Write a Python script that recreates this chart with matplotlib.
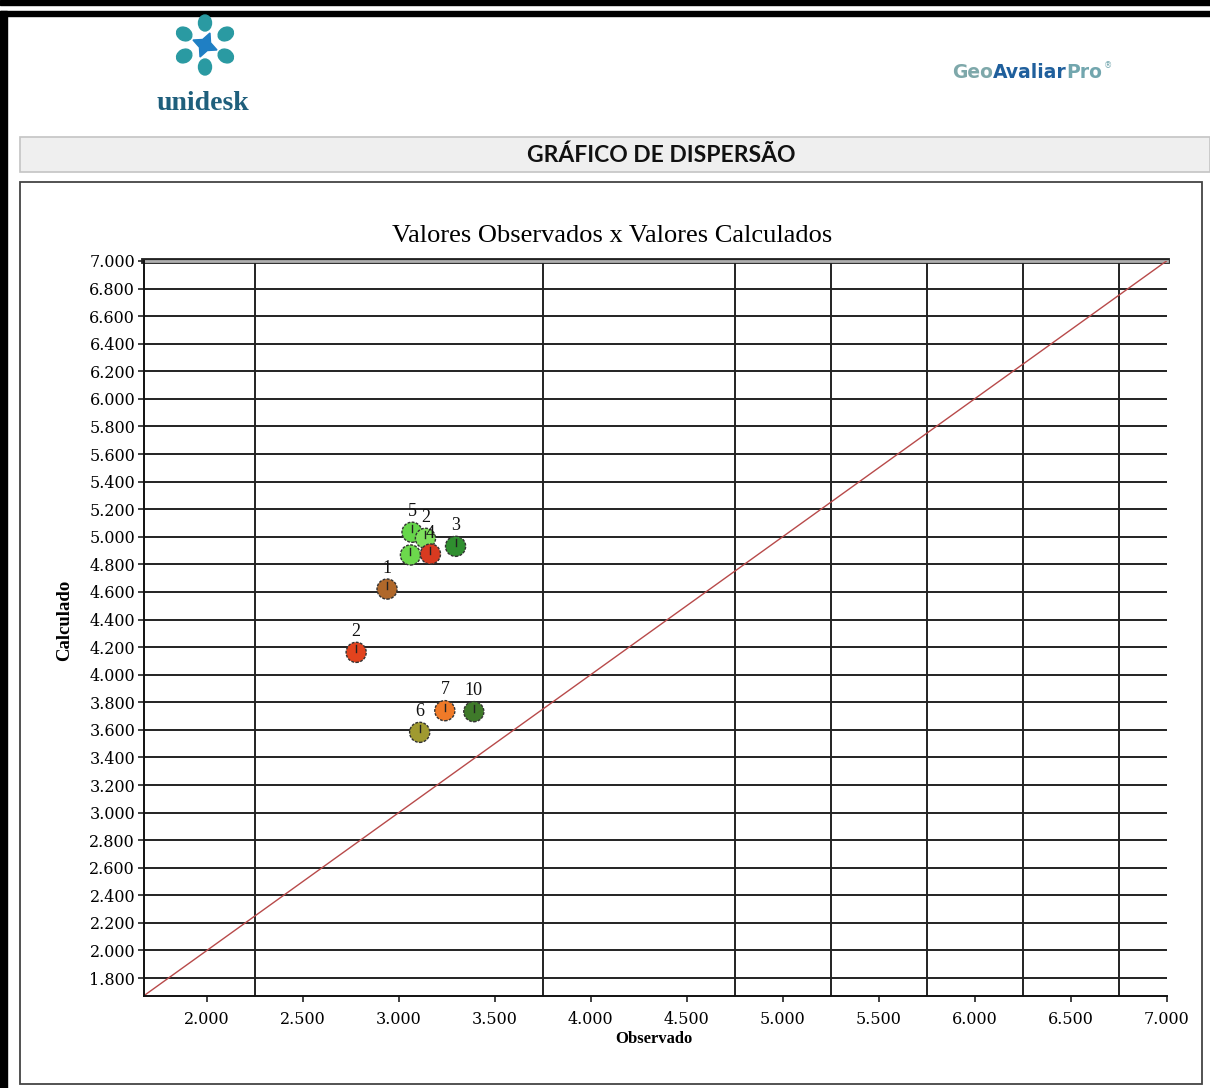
import matplotlib
matplotlib.use("Agg")
import matplotlib.pyplot as plt
from matplotlib.patches import Rectangle, Ellipse, Polygon
import numpy as np

# ---------------- data ----------------
point_labels = ["8", "1", "2", "3", "5", "2", "4", "6", "7", "10"]
observado = [3.061, 2.939, 2.778, 3.296, 3.069, 3.139, 3.165, 3.109, 3.240, 3.391]
calculado = [4.868, 4.621, 4.162, 4.931, 5.033, 4.989, 4.875, 3.582, 3.739, 3.732]
point_colors = ["#6cd84c", "#b0682a", "#e2431e", "#2f8f2f", "#66d64a", "#7ee05c",
                "#d83a20", "#a09a30", "#f07a28", "#3f7a2a"]

x_ticks = [2.0, 2.5, 3.0, 3.5, 4.0, 4.5, 5.0, 5.5, 6.0, 6.5, 7.0]
y_ticks = [1.8, 2.0, 2.2, 2.4, 2.6, 2.8, 3.0, 3.2, 3.4, 3.6, 3.8, 4.0, 4.2, 4.4,
           4.6, 4.8, 5.0, 5.2, 5.4, 5.6, 5.8, 6.0, 6.2, 6.4, 6.6, 6.8, 7.0]
x_grid = [2.25, 3.75, 4.75, 5.25, 5.75, 6.25, 6.75]
axis_min = 1.67
axis_max = 7.0

W, H = 1210, 1088
fig = plt.figure(figsize=(W / 100, H / 100), dpi=100)
fig.patch.set_facecolor("white")

# background overlay in pixel coordinates
bg = fig.add_axes([0, 0, 1, 1])
bg.set_xlim(0, W)
bg.set_ylim(H, 0)
bg.axis("off")

# outer black frame
bg.add_patch(Rectangle((0, 0), W, 5, color="black"))
bg.add_patch(Rectangle((0, 11), W, 5, color="black"))
bg.add_patch(Rectangle((0, 11), 7, H - 11, color="black"))

# logo (unidesk)
cx, cy = 205, 45
teal = "#2a9aa2"
for ang in [90, 30, 150, 210, 330, 270]:
    a = np.deg2rad(ang)
    ex, ey = cx + 24 * np.cos(a), cy - 22 * np.sin(a)
    bg.add_patch(Ellipse((ex, ey), 16, 13, angle=-ang, color=teal))
star = []
for k in range(8):
    a = np.deg2rad(45 * k + 22.5)
    r = 13 if k % 2 == 0 else 6
    star.append((cx + r * np.cos(a), cy + r * np.sin(a)))
bg.add_patch(Polygon(star, closed=True, color="#1f7fc4"))
bg.text(203, 104, "unidesk", color="#1f5f7c", fontsize=20, fontweight="bold",
        family="Liberation Serif", ha="center", va="center")

# GeoAvaliarPro text
fig.canvas.draw()
rend = fig.canvas.get_renderer()
x0 = 952
for part, col in [("Geo", "#7ea8aa"), ("Avaliar", "#1f5f9c"), ("Pro", "#72a6ae")]:
    t = bg.text(x0, 73, part, color=col, fontsize=13.5, fontweight="bold",
                family="DejaVu Sans", ha="left", va="center")
    bb = t.get_window_extent(renderer=rend)
    x0 += bb.width
bg.text(x0 + 1, 66, "®", color="#72a6ae", fontsize=6, family="DejaVu Sans",
        ha="left", va="center")

# header bar
bg.add_patch(Rectangle((20, 137), W - 20, 35, facecolor="#efefef",
                       edgecolor="#c4c4c4", lw=1.2))
bg.text(661, 155, "GRÁFICO DE DISPERSÃO", fontsize=16.5, fontweight="bold",
        family="Lato", ha="center", va="center", color="#111111")

# chart box
bg.add_patch(Rectangle((20, 182), 1182, 902, facecolor="white",
                       edgecolor="#444444", lw=1.3))

# chart title and axis labels
bg.text(612, 236, "Valores Observados x Valores Calculados", fontsize=19,
        family="Liberation Serif", ha="center", va="center", color="#000000")
bg.text(654, 1039, "Observado", fontsize=12, fontweight="bold",
        family="Liberation Serif", ha="center", va="center")
bg.text(65, 620, "Calculado", fontsize=13.5, fontweight="bold", rotation=90,
        family="Liberation Serif", ha="center", va="center")

# ---------------- main axes ----------------
left, right, top, bottom = 143.5, 1166.5, 261, 996
ax = fig.add_axes([left / W, 1 - bottom / H, (right - left) / W, (bottom - top) / H])
ax.set_facecolor("white")
ax.set_xlim(axis_min, axis_max)
ax.set_ylim(axis_min, axis_max)

for y in y_ticks[:-1]:
    ax.axhline(y, color="#222222", lw=1.4, zorder=1)
for x in x_grid:
    ax.axvline(x, color="#222222", lw=1.4, zorder=1)
ax.axhline(7.0, color="#222222", lw=4.2, zorder=2, clip_on=False)
ax.axhline(7.0, color="#b0b0b0", lw=2.0, zorder=2, clip_on=False)

ax.plot([axis_min, axis_max], [axis_min, axis_max], color="#b84a4a", lw=1.0, zorder=2)

for sp in ["top", "right"]:
    ax.spines[sp].set_visible(False)
for sp in ["left", "bottom"]:
    ax.spines[sp].set_color("#111111")
    ax.spines[sp].set_linewidth(1.4)

ax.set_xticks(x_ticks)
ax.set_yticks(y_ticks)
ax.set_xticklabels([f"{v:.3f}" for v in x_ticks], family="DejaVu Serif", fontsize=11.5)
ax.set_yticklabels([f"{v:.3f}" for v in y_ticks], family="DejaVu Serif", fontsize=11.5)
ax.tick_params(axis="both", direction="out", length=4, width=1.2, color="#222222")
ax.tick_params(axis="x", pad=7)
ax.tick_params(axis="y", pad=2)

for i, (xv, yv, lab, col) in enumerate(zip(observado, calculado, point_labels, point_colors)):
    z = 5 + 2 * i
    ax.scatter([xv], [yv], s=210, c=col, edgecolors="#333333", linewidths=1.0,
               linestyle=(0, (2, 1)), zorder=z)
    ax.plot([xv, xv], [yv, yv + 0.05], color="#222222", lw=1.0, zorder=z)
    ax.annotate(lab, (xv, yv), xytext=(0, 9), textcoords="offset points",
                ha="center", va="bottom", fontsize=13, family="Liberation Serif",
                color="#111111", zorder=z + 1)

fig.savefig("out.png", dpi=100, facecolor="white")
